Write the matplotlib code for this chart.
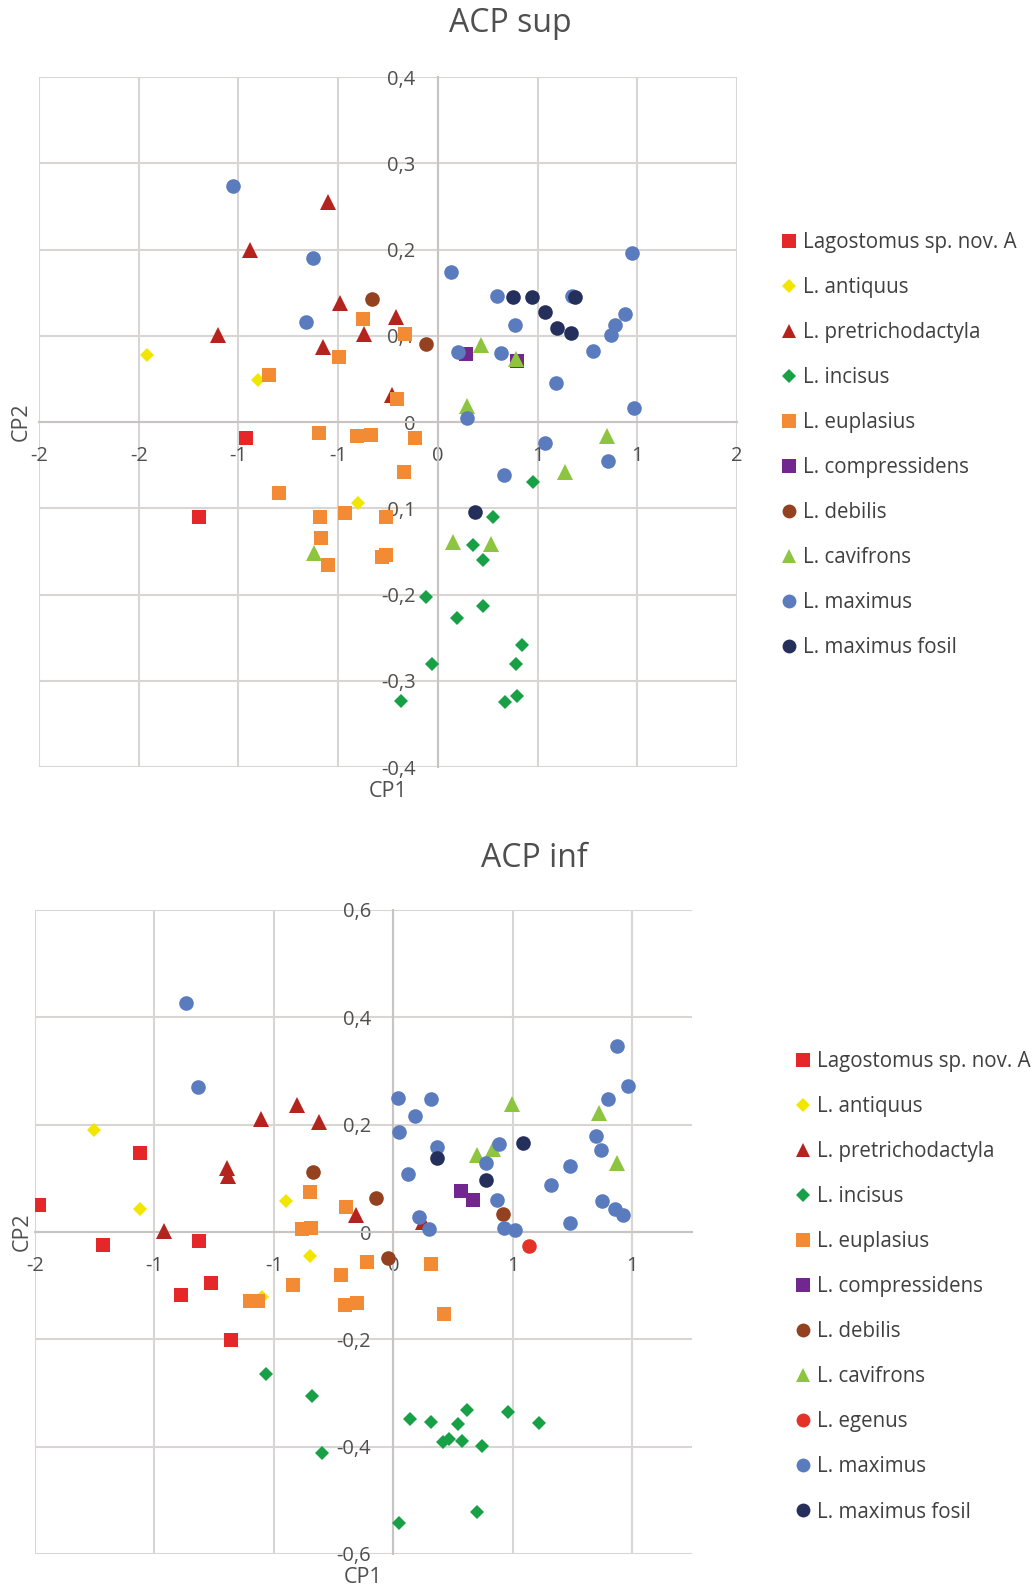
import matplotlib
matplotlib.use('Agg')
import matplotlib.pyplot as plt

plt.rcParams['font.family'] = ['Open Sans', 'DejaVu Sans']

# ---- data: ACP sup (CP1, CP2) ----
sup_nov_a = [(-0.96, -0.018), (-1.20, -0.110)]
sup_antiquus = [(-1.46, 0.078), (-0.90, 0.049), (-0.40, -0.094)]
sup_pretrich = [(-0.55, 0.255), (-0.94, 0.199), (-0.49, 0.138), (-0.21, 0.122), (-0.37, 0.102),
                (-1.10, 0.101), (-0.575, 0.087), (-0.23, 0.031)]
sup_incisus = [(-0.057, -0.203), (-0.028, -0.280), (-0.185, -0.323), (0.478, -0.069), (0.276, -0.110),
               (0.177, -0.143), (0.224, -0.160), (0.227, -0.213), (0.097, -0.227), (0.424, -0.258),
               (0.392, -0.280), (0.397, -0.318), (0.336, -0.325)]
sup_euplasius = [(-0.374, 0.119), (-0.165, 0.102), (-0.496, 0.075), (-0.845, 0.054), (-0.207, 0.027),
                 (-0.598, -0.013), (-0.407, -0.016), (-0.336, -0.015), (-0.117, -0.018), (-0.172, -0.058),
                 (-0.798, -0.082), (-0.593, -0.110), (-0.468, -0.105), (-0.259, -0.110), (-0.588, -0.134),
                 (-0.281, -0.157), (-0.262, -0.154), (-0.550, -0.166)]
sup_compress = [(0.140, 0.079), (0.397, 0.071)]
sup_debilis = [(-0.329, 0.143), (-0.057, 0.091)]
sup_cavifrons = [(0.214, 0.089), (0.391, 0.073), (0.147, 0.019), (0.850, -0.016), (0.640, -0.058),
                 (0.074, -0.139), (0.266, -0.141), (-0.621, -0.152)]
sup_maximus = [(-1.029, 0.274), (-0.625, 0.190), (-0.661, 0.116), (0.064, 0.174), (0.975, 0.196),
               (0.299, 0.146), (0.673, 0.146), (0.387, 0.112), (0.939, 0.125), (0.887, 0.113),
               (0.870, 0.101), (0.778, 0.082), (0.102, 0.081), (0.319, 0.080), (0.590, 0.045),
               (0.985, 0.016), (0.144, 0.005), (0.536, -0.024), (0.853, -0.045), (0.331, -0.061)]
sup_fosil = [(0.377, 0.145), (0.474, 0.145), (0.688, 0.145), (0.536, 0.127), (0.596, 0.109),
             (0.668, 0.103), (0.187, -0.104)]

# ---- data: ACP inf ----
inf_nov_a = [(-1.060, 0.148), (-1.485, 0.051), (-1.216, -0.025), (-0.812, -0.017), (-0.763, -0.095),
             (-0.890, -0.118), (-0.681, -0.202)]
inf_antiquus = [(-1.254, 0.190), (-1.060, 0.043), (-0.449, 0.057), (-0.349, -0.045), (-0.548, -0.121)]
inf_pretrich = [(-0.554, 0.210), (-0.404, 0.236), (-0.310, 0.205), (-0.697, 0.120), (-0.693, 0.105),
                (-0.156, 0.031), (-0.958, 0.002), (0.123, 0.018)]
inf_incisus = [(-0.534, -0.264), (-0.339, -0.306), (-0.300, -0.411), (0.070, -0.348), (0.156, -0.354),
               (0.310, -0.331), (0.269, -0.357), (0.479, -0.336), (0.611, -0.356), (0.209, -0.392),
               (0.233, -0.385), (0.286, -0.389), (0.370, -0.398), (0.349, -0.522), (0.025, -0.543)]
inf_euplasius = [(-0.349, 0.074), (-0.199, 0.046), (-0.383, 0.006), (-0.346, 0.008), (-0.600, -0.129),
                 (-0.565, -0.129), (-0.421, -0.098), (-0.220, -0.081), (-0.111, -0.056), (-0.202, -0.136),
                 (-0.153, -0.133), (0.158, -0.059), (0.214, -0.152)]
inf_compress = [(0.282, 0.076), (0.332, 0.059)]
inf_debilis = [(-0.335, 0.111), (-0.074, 0.064), (-0.022, -0.048), (0.458, 0.034)]
inf_cavifrons = [(0.497, 0.239), (0.861, 0.222), (0.352, 0.143), (0.416, 0.155), (0.935, 0.129)]
inf_egenus = [(0.566, -0.026)]
inf_maximus = [(-0.869, 0.426), (-0.816, 0.270), (0.935, 0.347), (0.983, 0.272), (0.900, 0.248),
               (0.021, 0.250), (0.158, 0.247), (0.092, 0.216), (0.025, 0.186), (0.184, 0.159),
               (0.444, 0.164), (0.848, 0.179), (0.868, 0.152), (0.387, 0.129), (0.062, 0.109),
               (0.739, 0.123), (0.659, 0.087), (0.435, 0.059), (0.872, 0.057), (0.929, 0.042),
               (0.960, 0.031), (0.739, 0.017), (0.109, 0.028), (0.149, 0.005), (0.464, 0.008),
               (0.509, 0.003)]
inf_fosil = [(0.183, 0.138), (0.541, 0.166), (0.388, 0.096)]

# axis ticks and labels (Excel rounds the x labels to integers)
sup_xticks = [-2, -1.5, -1, -0.5, 0, 0.5, 1, 1.5]
sup_xlabels = ['-2', '-2', '-1', '-1', '0', '1', '1', '2']
sup_yticks = [-0.4, -0.3, -0.2, -0.1, 0, 0.1, 0.2, 0.3, 0.4]
sup_ylabels = ['-0,4', '-0,3', '-0,2', '-0,1', '0', '0,1', '0,2', '0,3', '0,4']
inf_xticks = [-1.5, -1, -0.5, 0, 0.5, 1]
inf_xlabels = ['-2', '-1', '-1', '0', '1', '1']
inf_yticks = [-0.6, -0.4, -0.2, 0, 0.2, 0.4, 0.6]
inf_ylabels = ['-0,6', '-0,4', '-0,2', '0', '0,2', '0,4', '0,6']

# species style: name, marker, size, colour
sp_nov_a = ('Lagostomus sp. nov. A', 's', 10.5, '#E5272A')
sp_antiquus = ('L. antiquus', 'D', 7, '#F2E600')
sp_pretrich = ('L. pretrichodactyla', '^', 11, '#B5231F')
sp_incisus = ('L. incisus', 'D', 7, '#17A046')
sp_euplasius = ('L. euplasius', 's', 10.5, '#F38B35')
sp_compress = ('L. compressidens', 's', 10.5, '#72268F')
sp_debilis = ('L. debilis', 'o', 10.5, '#93411F')
sp_cavifrons = ('L. cavifrons', '^', 11, '#8DC540')
sp_egenus = ('L. egenus', 'o', 10.5, '#E53228')
sp_maximus = ('L. maximus', 'o', 10.5, '#5A7BBE')
sp_fosil = ('L. maximus fosil', 'o', 10.5, '#242F5C')

sup_series = [(sp_nov_a, sup_nov_a), (sp_antiquus, sup_antiquus), (sp_pretrich, sup_pretrich),
              (sp_incisus, sup_incisus), (sp_euplasius, sup_euplasius), (sp_compress, sup_compress),
              (sp_debilis, sup_debilis), (sp_cavifrons, sup_cavifrons), (sp_maximus, sup_maximus),
              (sp_fosil, sup_fosil)]
inf_series = [(sp_nov_a, inf_nov_a), (sp_antiquus, inf_antiquus), (sp_pretrich, inf_pretrich),
              (sp_incisus, inf_incisus), (sp_euplasius, inf_euplasius), (sp_compress, inf_compress),
              (sp_debilis, inf_debilis), (sp_cavifrons, inf_cavifrons), (sp_egenus, inf_egenus),
              (sp_maximus, inf_maximus), (sp_fosil, inf_fosil)]

GRID = '#D9D5D3'
TXT = '#4F4F4F'
W, H = 1035, 1588

fig = plt.figure(figsize=(W / 100, H / 100), dpi=100)


def draw_chart(rect, series, xlim, ylim, xticks, xlabels, yticks, ylabels, title, title_xy, leg_xy, cp1_y, cp2_x):
    ax = fig.add_axes(rect)
    for (name, mk, ms, col), pts in series:
        xs = [p[0] for p in pts]
        ys = [p[1] for p in pts]
        ax.plot(xs, ys, linestyle='none', marker=mk, markersize=ms, color=col,
                markeredgewidth=0, label=name, zorder=3)
    ax.set_xlim(xlim)
    ax.set_ylim(ylim)
    ax.set_xticks(xticks)
    ax.set_xticklabels(xlabels)
    ax.set_yticks(yticks)
    ax.set_yticklabels(ylabels)
    ax.grid(True, color=GRID, linewidth=1.5, zorder=0)
    ax.set_axisbelow(True)
    for ln in ax.get_xgridlines() + ax.get_ygridlines():
        ln.set_clip_on(False)
    # axes cross at zero like Excel
    ax.spines['left'].set_position(('data', 0))
    ax.spines['bottom'].set_position(('data', 0))
    ax.spines['left'].set_color('#C8C4C2')
    ax.spines['bottom'].set_color('#C8C4C2')
    ax.spines['left'].set_linewidth(1.5)
    ax.spines['bottom'].set_linewidth(1.5)
    ax.spines['top'].set_visible(False)
    ax.spines['right'].set_visible(False)
    ax.tick_params(axis='both', length=0, labelsize=14.5, labelcolor=TXT)
    ax.tick_params(axis='x', pad=17)
    ax.tick_params(axis='y', pad=16)
    ax.text(0.5, cp1_y, 'CP1', transform=ax.transAxes, ha='center', va='center', fontsize=15.5, color=TXT)
    ax.text(cp2_x, 0.5, 'CP2', transform=ax.transAxes, ha='center', va='center', fontsize=15.5,
            color=TXT, rotation=90)
    fig.text(title_xy[0] / W, 1 - title_xy[1] / H, title, ha='center', va='baseline',
             fontsize=23, color=TXT)
    leg = ax.legend(loc='upper left', bbox_to_anchor=(leg_xy[0] / W, 1 - leg_xy[1] / H),
                    bbox_transform=fig.transFigure, frameon=False, fontsize=14.8, numpoints=1,
                    handlelength=0.8, handletextpad=0.25, labelspacing=1.17, borderpad=0,
                    borderaxespad=0, markerscale=0.95)
    for t in leg.get_texts():
        t.set_color('#404040')
    return ax


draw_chart([39 / W, 1 - 767 / H, 698 / W, 690 / H], sup_series, (-2, 1.5), (-0.4, 0.4),
           sup_xticks, sup_xlabels, sup_yticks, sup_ylabels, 'ACP sup', (510, 32), (781, 232),
           -0.035, -0.026)
draw_chart([35 / W, 1 - 1554 / H, 657 / W, 644 / H], inf_series, (-1.5, 1.25), (-0.6, 0.6),
           inf_xticks, inf_xlabels, inf_yticks, inf_ylabels, 'ACP inf', (534, 867), (795, 1051),
           -0.037, -0.020)

fig.savefig('out.png', dpi=100)
